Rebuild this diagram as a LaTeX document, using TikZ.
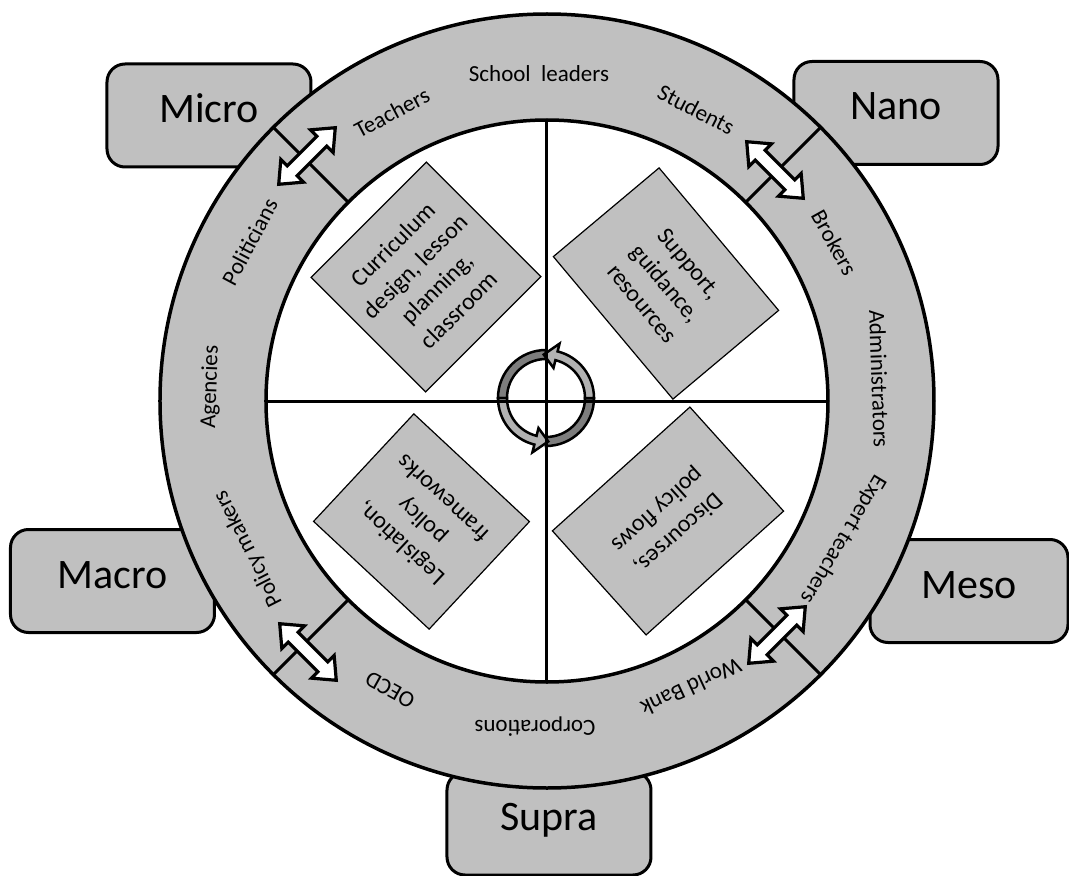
\documentclass[tikz,border=0pt]{standalone}
\usepackage{fontspec}
\setmainfont{Carlito}
\usetikzlibrary{calc}
\definecolor{boxgray}{RGB}{192,192,192}
\definecolor{bandlight}{RGB}{178,178,178}
\definecolor{banddark}{RGB}{125,125,125}
\begin{document}
\begin{tikzpicture}[x=1pt,y=1pt,
  lvl/.style={draw=black, line width=3pt, fill=boxgray, rounded corners=18pt,
    minimum width=204pt, minimum height=103pt, inner sep=0pt,
    font=\fontsize{42}{50}\selectfont, text height=27pt, text depth=13pt},
  ringlabel/.style={inner sep=0pt, font=\fontsize{23}{27}\selectfont,
    text height=15pt, text depth=0pt},
  quad/.style={draw=black, line width=1.2pt, fill=boxgray, align=center,
    inner sep=0pt, font=\fontsize{24}{31}\selectfont},
  ringline/.style={line width=3.5pt},
  divline/.style={line width=3pt},
  dblarrow/.pic={\draw[line width=3.2pt, fill=white, line join=miter]
    (-40,0) -- (-21,16) -- (-21,7) -- (21,7) -- (21,16) -- (40,0)
    -- (21,-16) -- (21,-7) -- (-21,-7) -- (-21,-16) -- cycle;},
  cyc/.style={line width=2.5pt, line join=miter}
]
\useasboundingbox (-547,-475) rectangle (522,401);
\coordinate (c) at (0,0);

% level boxes (behind the ring)
\node[lvl] (micro) at (-338,285.5) {Micro};
\node[lvl] (nano) at (349,288) {Nano};
\node[lvl] (macro) at (-434.5,-180) {Macro};
\node[lvl, minimum width=198pt] (meso) at (422,-190) {Meso};
\node[lvl] (supra) at (2,-422.5) {Supra};

% ring
\fill[boxgray, even odd rule] (c) circle (387) (c) circle (281);
\fill[white] (c) circle (281);
\draw[ringline] (c) circle (387);
\draw[ringline] (c) circle (281);

% radial dividers
\foreach \a in {45,135,225,315}
  \draw[divline] (\a:281) -- (\a:387);

% double arrows
\pic[rotate=45] (arrnw) at (-240,245) {dblarrow};
\pic[rotate=-45] (arrne) at (228,231) {dblarrow};
\pic[rotate=-45] (arrsw) at (-239,-251) {dblarrow};
\pic[rotate=45] (arrse) at (230,-234) {dblarrow};

% ring labels
\node[ringlabel] (lschool) at (-8,327) {School\ \ leaders};
\node[ringlabel, rotate=28] (lteach) at (-155,288) {Teachers};
\node[ringlabel, rotate=-27] (lstud) at (149,291) {Students};
\node[ringlabel, rotate=62] (lpol) at (-297,159) {Politicians};
\node[ringlabel, rotate=88] (lagen) at (-338,14) {Agencies};
\node[ringlabel, rotate=117] (lpolm) at (-300,-148) {Policy makers};
\node[ringlabel, rotate=151] (loecd) at (-157,-289) {OECD};
\node[ringlabel, rotate=180] (lcorp) at (-12,-327) {Corporations};
\node[ringlabel, rotate=205] (lwb) at (144,-286) {World Bank};
\node[ringlabel, rotate=-121] (lexp) at (297,-139) {Expert teachers};
\node[ringlabel, rotate=-88] (ladm) at (332,22) {Administrators};
\node[ringlabel, rotate=-61] (lbrok) at (287,158) {Brokers};

% inner rectangles
\node[quad, minimum width=163pt, minimum height=162pt, rotate=45] (curr) at (-121,124)
  {Curriculum\\design, lesson\\planning,\\classroom};
\node[quad, minimum width=186pt, minimum height=138pt, rotate=-50] (supp) at (119,117.5)
  {Support,\\guidance,\\resources};
\node[quad, minimum width=158pt, minimum height=147pt, rotate=137] (legis) at (-125.5,-120.5)
  {Legislation,\\policy\\frameworks};
\node[quad, minimum width=185pt, minimum height=140pt, rotate=222] (disc) at (121,-120)
  {Discourses,\\policy flows};

% central cycle
\begin{scope}[shift={(-1,3)}]
  \draw[cyc, fill=banddark] (90:48) arc[start angle=90, end angle=180, radius=48]
    -- (180:39) arc[start angle=180, end angle=90, radius=39] -- cycle;
  \draw[cyc, fill=banddark] (270:48) arc[start angle=270, end angle=360, radius=48]
    -- (360:39) arc[start angle=360, end angle=270, radius=39] -- cycle;
  \draw[cyc, fill=bandlight] (0:48) arc[start angle=0, end angle=76, radius=48]
    -- (76:56) -- (93:43.5) -- (76:31) -- (76:39)
    arc[start angle=76, end angle=0, radius=39] -- cycle;
  \draw[cyc, fill=bandlight] (180:48) arc[start angle=180, end angle=256, radius=48]
    -- (256:56) -- (273:43.5) -- (256:31) -- (256:39)
    arc[start angle=256, end angle=180, radius=39] -- cycle;
\end{scope}

% quadrant lines
\draw[divline] (-281,0) -- (281,0);
\draw[divline] (0,281) -- (0,-281);
\end{tikzpicture}
\end{document}
